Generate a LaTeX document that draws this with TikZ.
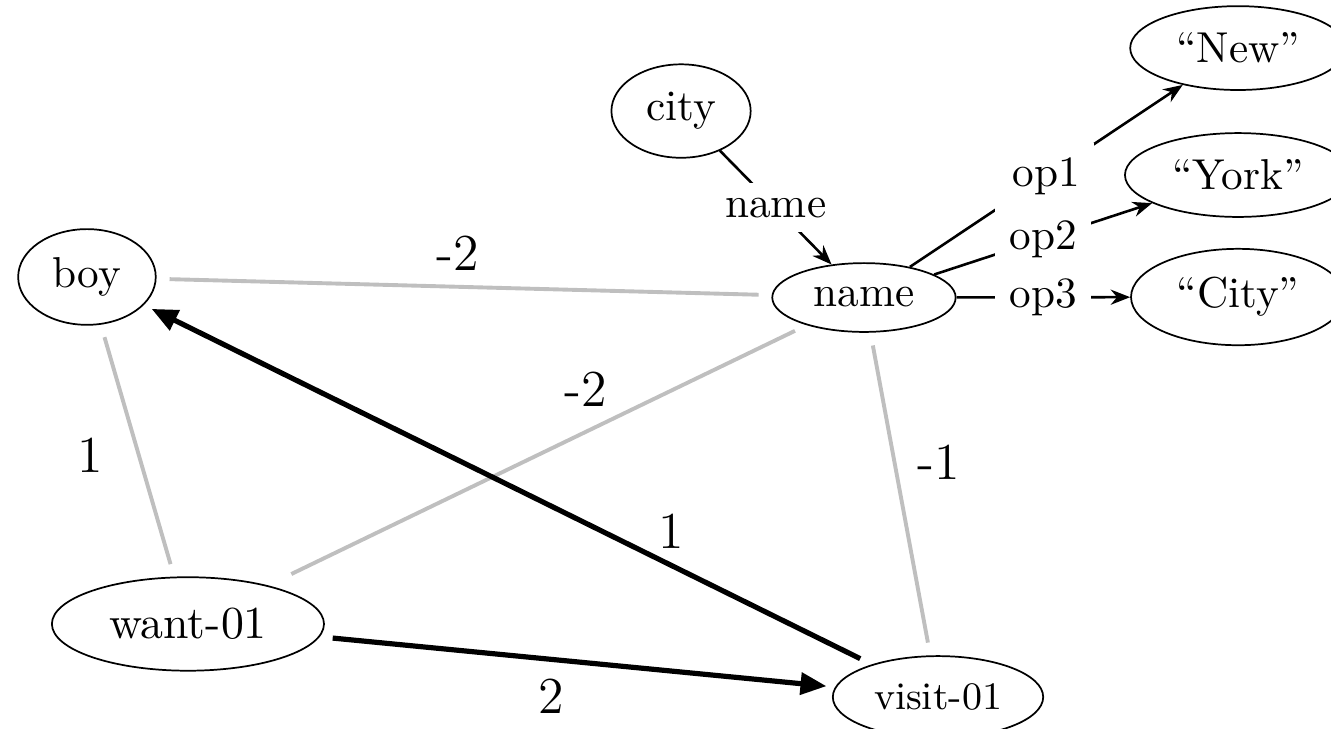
\documentclass[tikz,border=0pt]{standalone}
\usetikzlibrary{shapes.geometric,arrows.meta}

\tikzset{
  concept/.style={ellipse, draw},
  rel/.style={semithick, -{Stealth[length=4.5pt,width=3.5pt]}},
  rellabel/.style={fill=white},
  wedge/.style={draw=gray!50, line width=0.9pt, shorten <=3pt, shorten >=3pt},
  chosen/.style={line width=1.2pt, -{Triangle[length=6pt,width=5pt]}, shorten <=3pt, shorten >=2pt},
  score/.style={font=\large}
}

\begin{document}
\begin{tikzpicture}
  \clip (0,0) rectangle (10.821,5.919);

  % concepts
  \node[concept] (boy) at (0.707,3.667) {boy};
  \node[concept, font=\fontsize{10.6pt}{12pt}\selectfont, inner sep=4pt] (want) at (1.528,0.846) {want-01};
  \node[concept, font=\small, inner xsep=2.4pt, inner ysep=3.6pt] (visit) at (7.626,0.252) {visit-01};
  \node[concept] (nm) at (7.024,3.500) {name};
  \node[concept] (city) at (5.537,5.016) {city};
  \node[concept] (new) at (10.065,5.528) {``New''};
  \node[concept] (york) at (10.065,4.496) {``York''};
  \node[concept] (cty) at (10.065,3.504) {``City''};

  % graph edges
  \draw[rel] (city) -- node[rellabel] {name} (nm);
  \draw[rel] (nm) -- node[rellabel] {op1} (new);
  \draw[rel] (nm) -- node[rellabel] {op2} (york);
  \draw[rel] (nm) -- node[rellabel] {op3} (cty);

  % scored pairs
  \draw[wedge] (boy) -- node[score, pos=0.49, above] {-2} (nm);
  \draw[wedge] (boy) -- node[score, pos=0.52, left=4.5pt] {1} (want);
  \draw[wedge, shorten >=6pt] (nm) -- node[score, pos=0.41, above=2pt] {-2} (want);
  \draw[wedge] (nm) -- node[score, pos=0.40, right=1.6pt] {-1} (visit);

  \draw[chosen] (visit) -- node[score, pos=0.275, above] {1} (boy);
  \draw[chosen] (want) -- node[score, pos=0.45, below=0.5pt] {2} (visit);
\end{tikzpicture}
\end{document}
